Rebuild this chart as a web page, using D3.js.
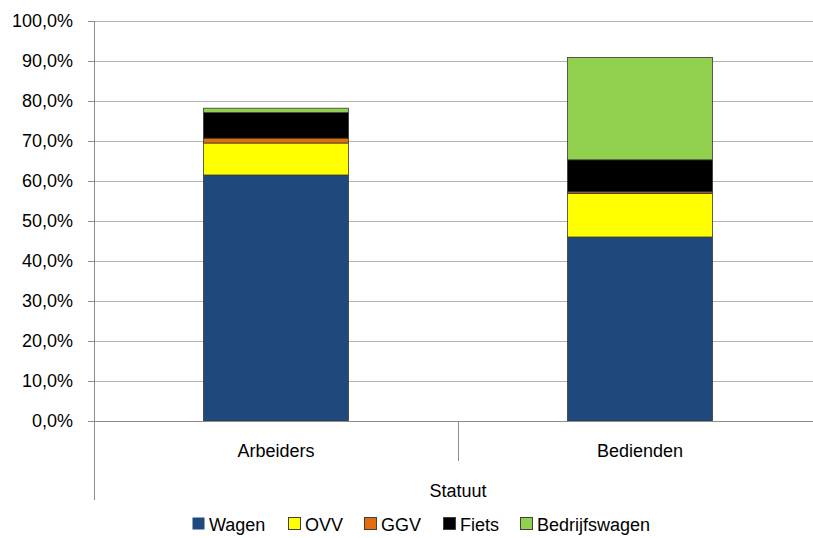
<!DOCTYPE html>
<html><head><meta charset="utf-8">
<script src="https://cdn.jsdelivr.net/npm/d3@7"></script>
<style>body{margin:0;background:#fff}svg{display:block}text{font-family:"Liberation Sans",Arial,sans-serif;fill:#000}</style>
</head><body><svg id="c" width="813" height="538"></svg>
<script>
const categories = ["Arbeiders", "Bedienden"];
const seriesNames = ["Wagen", "OVV", "GGV", "Fiets", "Bedrijfswagen"];
const wagen = [61.5, 46.0];
const ovv = [8.0, 10.9];
const ggv = [1.2, 0.4];
const fiets = [6.4, 8.0];
const bedrijfswagen = [1.1, 25.6];
const colors = ["#1F497D", "#FFFF00", "#E46C0A", "#000000", "#92D050"];
const yTicks = [0,10,20,30,40,50,60,70,80,90,100];
const axisTitle = "Statuut";

const svg = d3.select("#c");
const L = 94, R = 822, T = 21, B = 421;
const x = d3.scaleBand().domain(categories).range([L, R]).paddingInner(0.6016).paddingOuter(0.3008);
const y = d3.scaleLinear().domain([0, 100]).range([B, T]);

const rows = categories.map((c, i) => ({cat: c, Wagen: wagen[i], OVV: ovv[i], GGV: ggv[i], Fiets: fiets[i], Bedrijfswagen: bedrijfswagen[i]}));
const stack = d3.stack().keys(seriesNames)(rows);

// gridlines
svg.append("g").selectAll("line").data(yTicks.slice(1)).join("line")
  .attr("x1", L - 6).attr("x2", R).attr("y1", d => y(d)).attr("y2", d => y(d))
  .attr("stroke", "#b4b4b4").attr("stroke-width", 1).attr("shape-rendering", "crispEdges");

// bars
stack.forEach((s, si) => {
  svg.append("g").selectAll("rect").data(s).join("rect")
    .attr("x", d => x(d.data.cat)).attr("width", x.bandwidth())
    .attr("y", d => y(d[1])).attr("height", d => y(d[0]) - y(d[1]))
    .attr("fill", colors[si]).attr("stroke", "#3a3a3a").attr("stroke-width", 0.8);
});

// y axis
const yAxis = d3.axisLeft(y).tickValues(yTicks).tickSize(6).tickPadding(15)
  .tickFormat(d => d.toFixed(1).replace(".", ",") + "%");
const ya = svg.append("g").attr("transform", `translate(${L},0)`).call(yAxis);
ya.select(".domain").remove();
ya.selectAll("line").attr("stroke", "#8c8c8c").attr("shape-rendering", "crispEdges");
ya.selectAll("text").attr("font-size", 18).attr("font-family", "Liberation Sans, Arial, sans-serif").attr("fill", "#000");
svg.append("line").attr("x1", L).attr("x2", L).attr("y1", T).attr("y2", 500)
  .attr("stroke", "#8c8c8c").attr("shape-rendering", "crispEdges");

// x axis baseline
svg.append("line").attr("x1", L - 6).attr("x2", R).attr("y1", B).attr("y2", B)
  .attr("stroke", "#8c8c8c").attr("shape-rendering", "crispEdges");
// category separator
const sep = (x(categories[0]) + x.bandwidth() + x(categories[1])) / 2;
svg.append("line").attr("x1", sep).attr("x2", sep).attr("y1", B).attr("y2", 461)
  .attr("stroke", "#8c8c8c").attr("shape-rendering", "crispEdges");

svg.append("g").selectAll("text").data(categories).join("text")
  .attr("x", d => x(d) + x.bandwidth() / 2).attr("y", 457)
  .attr("text-anchor", "middle").attr("font-size", 18).text(d => d);

svg.append("text").attr("x", sep).attr("y", 497).attr("text-anchor", "middle")
  .attr("font-size", 18).text(axisTitle);

// legend
const legX = [192, 288, 364, 443, 520];
const lg = svg.append("g").selectAll("g").data(seriesNames).join("g")
  .attr("transform", (d, i) => `translate(${legX[i]},517)`);
lg.append("rect").attr("x", 0.5).attr("y", 0.5).attr("width", 12).attr("height", 12)
  .attr("fill", (d, i) => colors[i]).attr("stroke", (d,i) => i === 0 ? "none" : "#404040").attr("stroke-width", 1);
lg.append("text").attr("x", 17).attr("y", 14).attr("font-size", 18).text(d => d);
</script></body></html>
